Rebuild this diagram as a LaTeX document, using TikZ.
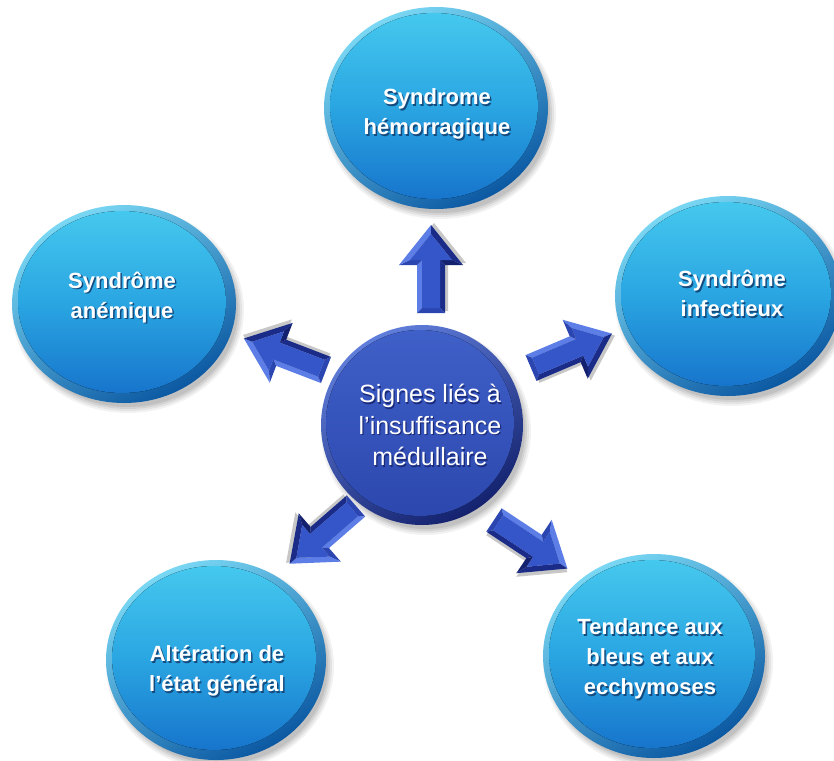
\documentclass[tikz,border=0pt]{standalone}
\usepackage{fontspec}
\setmainfont{Liberation Sans}
\usetikzlibrary{shapes.geometric,calc}
\definecolor{rimA}{HTML}{7AD8F4}
\definecolor{rimB}{HTML}{0B58A2}
\definecolor{bodyA}{HTML}{45C8EE}
\definecolor{bodyM}{HTML}{2AA6E2}
\definecolor{bodyB}{HTML}{1775CC}
\definecolor{crimA}{HTML}{5F7DDA}
\definecolor{crimB}{HTML}{14226E}
\definecolor{cbodyA}{HTML}{3F60C8}
\definecolor{cbodyB}{HTML}{2C48AE}
\definecolor{arFront}{HTML}{3556C8}
\definecolor{arLight}{HTML}{5C7EE6}
\definecolor{arMid}{HTML}{2B46B0}
\definecolor{arDark}{HTML}{1B2C88}
\definecolor{arDeep}{HTML}{14216E}
\definecolor{shadowc}{HTML}{144A7E}
\definecolor{cshadowc}{HTML}{1A2A78}
\newcommand\sh[1]{\makebox[0pt][l]{\kern1.5pt\raisebox{-1.8pt}{\textcolor{shadowc}{#1}}}#1}
\newcommand\csh[1]{\makebox[0pt][l]{\kern1.2pt\raisebox{-1.5pt}{\textcolor{cshadowc}{#1}}}#1}
\tikzset{
  rim/.style={ellipse, inner sep=0pt, top color=rimA, bottom color=rimB, shading angle=30},
  crim/.style={ellipse, inner sep=0pt, top color=crimA, bottom color=crimB, shading angle=30},
  body/.style={top color=bodyA, bottom color=bodyB, middle color=bodyM},
  cbody/.style={top color=cbodyA, bottom color=cbodyB},
  lbl/.style={text=white, align=center, inner sep=0pt, font=\fontsize{22}{30}\selectfont\bfseries},
  clbl/.style={text=white, align=center, inner sep=0pt, font=\fontsize{25}{31.5}\selectfont},
  blockarrow/.pic={
    \fill[black, opacity=0.22] (2,11) -- (50,11) -- (50,29) -- (90,-3) -- (50,-35) -- (50,-17) -- (2,-17) -- cycle;
    \fill[arLight] (0,14) -- (48,14) -- (53,9) -- (5,9) -- cycle;
    \fill[arDark] (0,-14) -- (48,-14) -- (53,-9) -- (5,-9) -- cycle;
    \fill[arMid] (0,14) -- (0,-14) -- (5,-9) -- (5,9) -- cycle;
    \fill[arMid] (48,14) -- (48,32) -- (53,21) -- (53,9) -- cycle;
    \fill[arDeep] (48,-14) -- (48,-32) -- (53,-21) -- (53,-9) -- cycle;
    \fill[arLight] (48,32) -- (88,0) -- (79,0) -- (53,21) -- cycle;
    \fill[arDark] (48,-32) -- (88,0) -- (79,0) -- (53,-21) -- cycle;
    \fill[arFront] (5,9) -- (53,9) -- (53,21) -- (79,0) -- (53,-21) -- (53,-9) -- (5,-9) -- cycle;
  }
}
\newcommand\softshadow[4]{%
  \foreach \d/\o in {4/0.05,2/0.06,0/0.07,-2/0.08}{%
    \fill[black, opacity=\o] (#1+4,#2-6) ellipse [x radius=#3+\d, y radius=#4+\d];}}
\newcommand\outerball[5]{%
  \softshadow{#2}{#3}{#4}{#5}
  \node[rim, minimum width=2*#4pt, minimum height=2*#5pt] (#1) at (#2,#3) {};
  \fill[body] ($(#1.center)+(-2,2)$) ellipse [x radius=#4-8, y radius=#5-8];
}
\begin{document}
\begin{tikzpicture}[x=1pt, y=1pt]
\useasboundingbox (0,0) rectangle (834,-760);
\clip (0,0) rectangle (834,-760);
\fill[white] (0,0) rectangle (834,-760);

% outer circles
\outerball{hem}{436}{-108}{112}{101}
\outerball{anem}{124}{-304}{112}{99}
\outerball{infe}{728}{-296}{113}{100}
\outerball{alte}{216}{-660}{110}{100}
\outerball{tend}{654}{-656}{111}{102}

% centre circle
\softshadow{422}{-425}{101}{100}
\node[crim, minimum width=202pt, minimum height=200pt] (ctr) at (422,-425) {};
\fill[cbody] ($(ctr.center)+(-2,2)$) ellipse [x radius=94, y radius=93];

% arrows
\coordinate (tUp) at (431,-313);
\coordinate (tLeft) at (326,-370);
\coordinate (tRight) at (531,-368);
\coordinate (tDL) at (356,-506);
\coordinate (tDR) at (494,-520);
\pic[rotate=90] at (tUp) {blockarrow};
\pic[rotate=159] at (tLeft) {blockarrow};
\pic[rotate=23] at (tRight) {blockarrow};
\pic[rotate=221] at (tDL) {blockarrow};
\pic[rotate=-33.5] at (tDR) {blockarrow};

% labels
\node[lbl] (hemT) at (437,-115) {\sh{Syndrome}\\\sh{hémorragique}};
\node[lbl] (anemT) at (122,-298) {\sh{Syndrôme}\\\sh{anémique}};
\node[lbl] (infeT) at (732,-294) {\sh{Syndrôme}\\\sh{infectieux}};
\node[lbl] (alteT) at (217,-672) {\sh{Altération de}\\\sh{l’état général}};
\node[lbl] (tendT) at (650,-660) {\sh{Tendance aux}\\\sh{bleus et aux}\\\sh{ecchymoses}};
\node[clbl] (ctrT) at (430,-426) {\csh{Signes liés à}\\\csh{l’insuffisance}\\\csh{médullaire}};
\end{tikzpicture}
\end{document}
